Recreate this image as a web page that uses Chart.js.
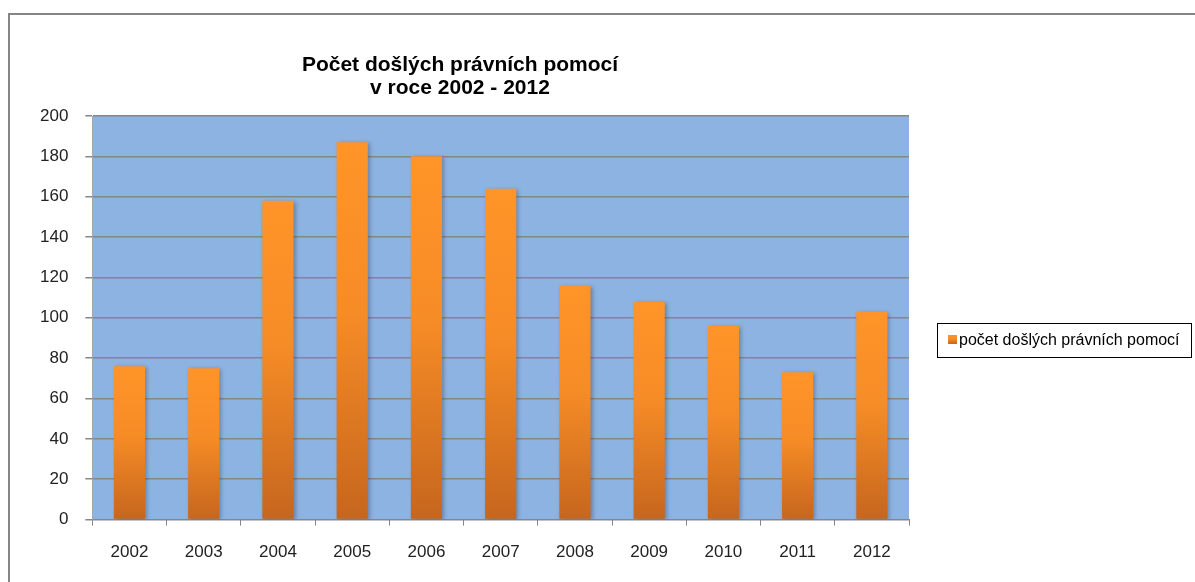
<!DOCTYPE html>
<html>
<head>
<meta charset="utf-8">
<script src="https://cdn.jsdelivr.net/npm/chart.js@4/dist/chart.umd.min.js"></script>
<style>
  html, body { margin: 0; padding: 0; background: #fff; }
  #wrap { width: 1195px; height: 582px; }
</style>
</head>
<body>
<div id="wrap"><canvas id="graf"></canvas></div>
<script>
// data
const roky = ['2002', '2003', '2004', '2005', '2006', '2007', '2008', '2009', '2010', '2011', '2012'];
const pocty = [76, 75, 158, 187, 180, 164, 116, 108, 96, 73, 103];
const nazevRady = 'počet došlých právních pomocí';
const titulek = ['Počet došlých právních pomocí', 'v roce 2002 - 2012'];
const osaY = { min: 0, max: 200, krok: 20 };

const FONT = '"Liberation Sans", Arial, sans-serif';
const SEDA = '#868686';

function oranzovyGradient(ctx, top, bottom) {
    const g = ctx.createLinearGradient(0, top, 0, bottom);
    g.addColorStop(0, '#ff9428');
    g.addColorStop(0.45, '#f68c26');
    g.addColorStop(1, '#c6661e');
    return g;
}

// ramecek, pozadi grafu, titulek a legenda
const kresleni = {
    id: 'kresleni',
    beforeDraw(chart) {
        const { ctx, chartArea: a } = chart;
        ctx.save();
        ctx.fillStyle = '#fff';
        ctx.fillRect(0, 0, chart.width, chart.height);
        ctx.strokeStyle = '#858585';
        ctx.lineWidth = 2;
        ctx.strokeRect(9, 14, chart.width + 20, chart.height + 20);
        ctx.fillStyle = '#8db3e2';
        ctx.fillRect(a.left, a.top, a.right - a.left, a.bottom - a.top);
        ctx.restore();
    },
    beforeDatasetsDraw(chart) {
        const ctx = chart.ctx;
        ctx.save();
        ctx.shadowColor = 'rgba(40, 40, 60, 0.35)';
        ctx.shadowBlur = 4;
        ctx.shadowOffsetX = 2;
        ctx.shadowOffsetY = 1;
    },
    afterDatasetsDraw(chart) {
        chart.ctx.restore();
    },
    afterDraw(chart) {
        const { ctx, chartArea: a } = chart;
        ctx.save();
        // titulek
        ctx.fillStyle = '#000';
        ctx.font = 'bold 21px ' + FONT;
        ctx.textAlign = 'center';
        ctx.textBaseline = 'alphabetic';
        const cx = 460;
        titulek.forEach((t, i) => ctx.fillText(t, cx, 71 + i * 23));

        // legenda
        const lx = a.right + 28, ly = 323, lw = 254, lh = 34;
        ctx.strokeStyle = '#000';
        ctx.lineWidth = 1;
        ctx.strokeRect(lx + 0.5, ly + 0.5, lw, lh);
        ctx.fillStyle = oranzovyGradient(ctx, ly + 12, ly + 21);
        ctx.fillRect(lx + 11, ly + 12, 9, 9);
        ctx.fillStyle = '#000';
        ctx.font = '16px ' + FONT;
        ctx.textAlign = 'left';
        ctx.textBaseline = 'middle';
        ctx.fillText(chart.data.datasets[0].label, lx + 22, ly + lh / 2 + 1);
        ctx.restore();
    }
};

const ctx = document.getElementById('graf').getContext('2d');
const graf = new Chart(ctx, {
    type: 'bar',
    data: {
        labels: roky,
        datasets: [{
            label: nazevRady,
            data: pocty,
            backgroundColor: (c) => {
                const chart = c.chart;
                if (!chart.chartArea || c.parsed === undefined) return '#f68c26';
                const y = chart.scales.y;
                return oranzovyGradient(chart.ctx, y.getPixelForValue(c.parsed.y), y.getPixelForValue(0));
            },
            borderWidth: 0,
            barPercentage: 0.42,
            categoryPercentage: 1
        }]
    },
    options: {
        responsive: true,
        maintainAspectRatio: false,
        animation: false,
        layout: { padding: { left: 23, right: 286, top: 116, bottom: 2 } },
        plugins: {
            legend: { display: false },
            title: { display: false },
            tooltip: { enabled: false }
        },
        scales: {
            x: {
                grid: { drawOnChartArea: false, drawTicks: true, tickLength: 6, color: SEDA, offset: true },
                border: { color: SEDA, width: 1 },
                ticks: { color: '#222', font: { family: FONT, size: 17 }, padding: 17 }
            },
            y: {
                min: osaY.min,
                max: osaY.max,
                grid: { color: SEDA, lineWidth: 1.5, tickLength: 7, drawTicks: true },
                border: { color: '#a6a6a6', width: 1 },
                ticks: { stepSize: osaY.krok, color: '#222', font: { family: FONT, size: 17 }, padding: 17 }
            }
        }
    },
    plugins: [kresleni]
});
</script>
</body>
</html>
